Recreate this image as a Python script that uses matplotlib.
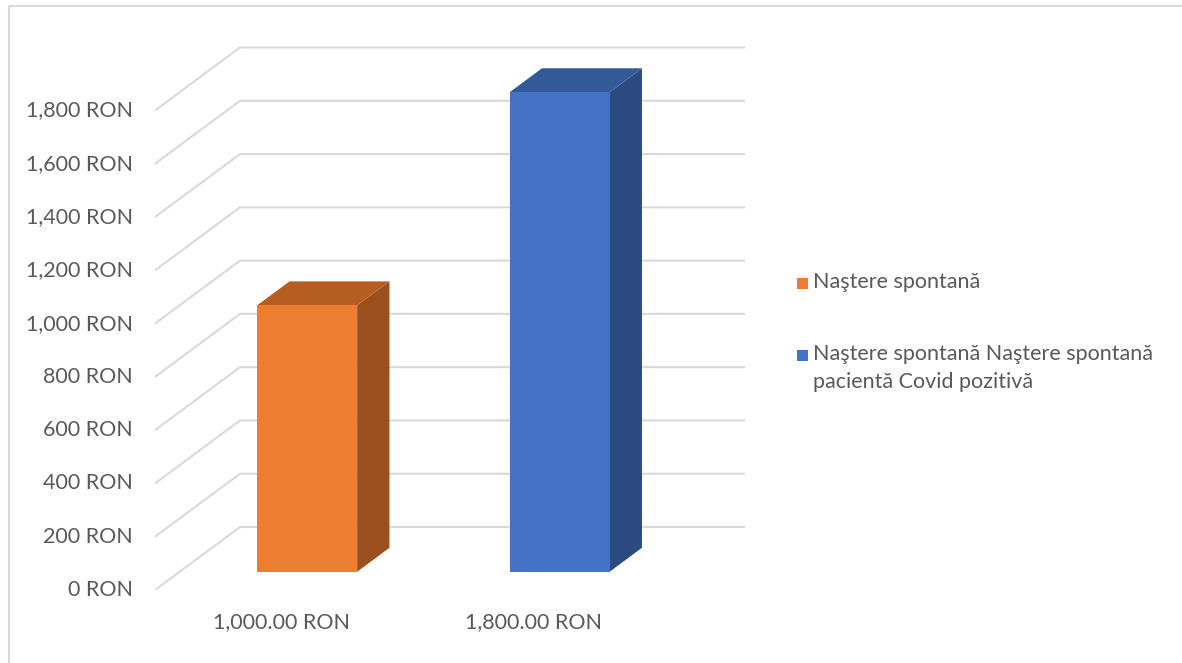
import matplotlib
matplotlib.use("Agg")
import matplotlib.pyplot as plt
from matplotlib.patches import Polygon, Rectangle
from matplotlib.lines import Line2D

# Data
categories = ["1,000.00 RON", "1,800.00 RON"]
values = [1000, 1800]
series_names = ["Naştere spontană",
                "Naştere spontană Naştere spontană\npacientă Covid pozitivă"]
y_ticks = [0, 200, 400, 600, 800, 1000, 1200, 1400, 1600, 1800]
y_tick_labels = [f"{v:,} RON" for v in y_ticks]

# Face colours (front, side, top) per series
face_colors = [("#ED7D31", "#9A4F1D", "#B65D22"),
               ("#4472C4", "#2B4A80", "#335A98")]
grid_color = "#D9D9D9"
text_color = "#595959"
font = "Lato"
fs = 15.5

W, H, DPI = 11.82, 6.63, 100
fig = plt.figure(figsize=(W, H), dpi=DPI)

# Front plane of the plot in pixels: x 155..660, value 0 at y=590
px_left, px_front_right, px_right = 155, 660, 745
px_zero, px_top = 590, 40
px_per_val = 0.2664
n = len(categories)
x_per_px = n / (px_front_right - px_left)
ymax = (px_zero - px_top) / px_per_val
xmax = (px_right - px_left) * x_per_px

ax = fig.add_axes([px_left / 1182, 1 - px_zero / 663,
                   (px_right - px_left) / 1182, (px_zero - px_top) / 663])
ax.set_xlim(0, xmax)
ax.set_ylim(0, ymax)
ax.axis("off")

# Depth direction of the 3D box, in data units (85 px right, 63 px up)
DX = 85 * x_per_px
DY = 63 / px_per_val


def proj(x, v, d):
    return (x + d * DX, v + d * DY)


# Gridlines: floor diagonal + back wall horizontal
for v in y_ticks:
    x0, y0 = proj(0, v, 0)
    x1, y1 = proj(0, v, 1)
    x2, y2 = proj(n, v, 1)
    ax.add_line(Line2D([x0, x1, x2], [y0, y1, y2], color=grid_color,
                       lw=1.5, solid_joinstyle="miter", zorder=1))

# Bars as boxes
half_w = 0.198
d0, d1 = 0.29, 0.67
for i, (v, cols) in enumerate(zip(values, face_colors)):
    c = i + 0.505
    xl, xr = c - half_w, c + half_w
    front = [proj(xl, 0, d0), proj(xr, 0, d0), proj(xr, v, d0), proj(xl, v, d0)]
    side = [proj(xr, 0, d0), proj(xr, 0, d1), proj(xr, v, d1), proj(xr, v, d0)]
    top = [proj(xl, v, d0), proj(xr, v, d0), proj(xr, v, d1), proj(xl, v, d1)]
    ax.add_patch(Polygon(side, closed=True, fc=cols[1], ec="none", zorder=3))
    ax.add_patch(Polygon(top, closed=True, fc=cols[2], ec="none", zorder=3))
    ax.add_patch(Polygon(front, closed=True, fc=cols[0], ec="none", zorder=4))

# Value-axis labels, right aligned at the front plane
for v, lab in zip(y_ticks, y_tick_labels):
    ax.text(-22 * x_per_px, v, lab, ha="right", va="center", fontsize=fs,
            color=text_color, family=font)

# Category labels
for i, lab in enumerate(categories):
    ax.text(i + 0.5, -32 / px_per_val, lab, ha="center", va="center",
            fontsize=fs, color=text_color, family=font)

# Legend
leg_y = [284, 356]
for name, cols, ly in zip(series_names, face_colors, leg_y):
    fig.patches.append(Rectangle(((797) / 1182, 1 - (ly + 5) / 663),
                                 11 / 1182, 11 / 663, fc=cols[0], ec="none",
                                 transform=fig.transFigure, figure=fig))
    fig.text(813 / 1182, 1 - (ly - 12) / 663, name, ha="left", va="top",
             fontsize=fs, color=text_color, family=font, linespacing=1.5)

# Chart area border (top and left edges)
fig.add_artist(Line2D([8.5 / 1182, 8.5 / 1182, 1], [0, 1 - 5.5 / 663, 1 - 5.5 / 663],
                      transform=fig.transFigure, color="#D9D9D9", lw=1.5))

fig.savefig("out.png", dpi=DPI)
